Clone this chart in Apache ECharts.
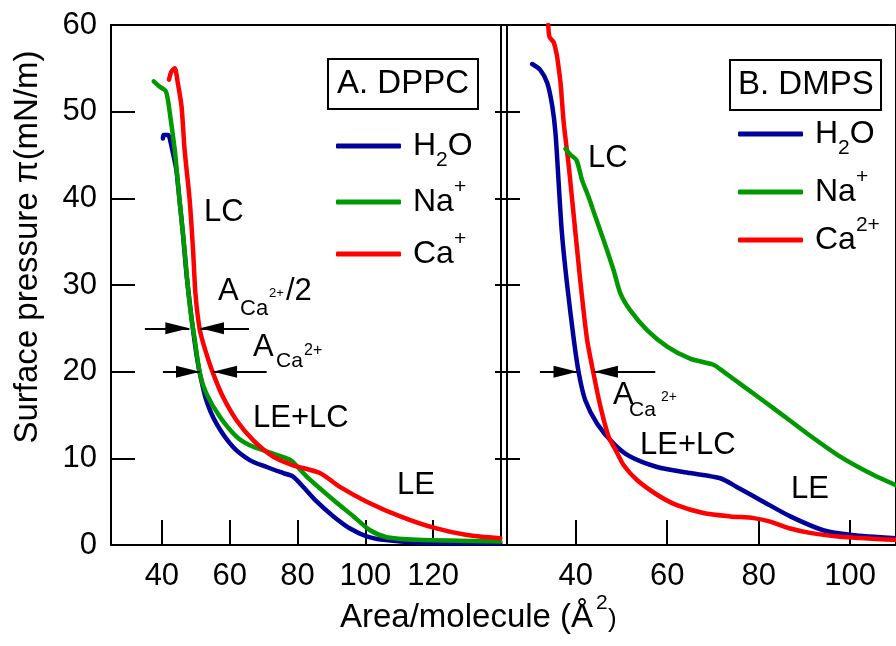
<!DOCTYPE html>
<html>
<head>
<meta charset="utf-8">
<script src="https://cdn.jsdelivr.net/npm/echarts@6/dist/echarts.min.js"></script>
<style>
  html, body { margin: 0; padding: 0; background: #fff; }
  #chart { width: 896px; height: 646px; }
</style>
</head>
<body>
<div id="chart"></div>
<script>
// Surface pressure isotherms: [area per molecule (Å²), pressure (mN/m)]

// Panel A: DPPC
const dppcWater = [[40.3,46.9],[40.5,47.3],[41.9,47.3],[42.5,46.6],[43.5,44.8],[44.3,43.2],[45.2,39.8],[46.2,36.0],[47.2,31.5],[48.2,28.0],[49.2,24.8],[50.2,22.0],[51.2,19.8],[53.1,16.7],[56.1,14.0],[61.0,11.3],[65.9,9.8],[70.9,9.0],[75.8,8.3],[78.7,7.9],[81.7,6.7],[85.7,5.0],[90.6,3.3],[95.5,1.9],[100.4,1.0],[105.3,0.6],[115.2,0.3],[139.8,0.2]];
const dppcNa = [[37.6,53.5],[39.3,52.9],[41.1,52.4],[41.8,51.3],[42.5,49.4],[43.8,45.6],[45.2,39.8],[46.7,34.0],[47.7,29.6],[48.6,26.5],[49.7,23.7],[51.2,19.8],[53.1,17.5],[57.1,14.8],[62.0,12.5],[65.9,11.5],[70.9,10.8],[76.8,10.0],[78.3,9.7],[82.7,7.9],[90.6,5.2],[96.5,3.3],[101.4,1.7],[106.3,0.9],[115.2,0.6],[139.8,0.4]];
const dppcCa = [[42.1,53.7],[42.8,54.6],[43.8,55.0],[44.7,53.3],[45.8,50.6],[46.7,45.6],[48.2,39.8],[49.2,34.0],[49.9,29.0],[51.2,24.8],[53.1,22.1],[55.1,19.8],[58.0,17.1],[62.0,14.4],[66.9,12.1],[72.8,10.2],[78.7,9.2],[86.6,8.3],[92.5,6.7],[100.4,5.0],[110.3,3.3],[120.1,2.0],[130.0,1.15],[139.8,0.77]];

// Panel B: DMPS
const dmpsWater = [[30.5,55.5],[32.3,54.8],[33.8,53.3],[34.9,50.6],[35.6,47.5],[36.3,41.7],[37.0,36.0],[38.1,30.2],[39.6,23.7],[40.7,19.8],[42.1,16.7],[44.7,14.0],[48.3,11.7],[51.9,10.2],[57.8,9.0],[65.0,8.3],[71.6,7.7],[75.2,6.7],[81.0,5.0],[86.9,3.3],[94.1,1.7],[100.3,1.15],[110.0,0.77]];
const dmpsNa = [[37.8,45.7],[38.9,45.0],[40.2,44.4],[41.4,42.1],[42.8,40.2],[44.3,37.9],[46.1,35.2],[48.3,31.7],[49.8,29.0],[51.9,27.1],[55.6,24.8],[60.0,22.9],[65.0,21.5],[70.1,20.8],[72.3,20.0],[76.7,18.3],[83.2,15.8],[90.5,12.9],[97.8,10.2],[105.0,8.1],[110.0,6.9]];
const dmpsCa = [[34.0,60.0],[34.3,58.6],[35.2,58.0],[35.9,56.5],[36.3,55.0],[36.7,53.3],[37.4,48.7],[38.5,43.7],[39.6,37.9],[40.7,32.1],[41.4,28.6],[42.5,23.7],[43.9,19.8],[45.4,16.0],[47.2,12.5],[48.7,11.0],[50.5,9.2],[53.4,7.5],[57.8,5.8],[62.1,4.6],[67.9,3.7],[73.8,3.3],[78.9,3.1],[82.5,2.7],[86.9,1.9],[91.2,1.4],[97.8,0.96],[110.0,0.6]];

// Axis ticks
const yTicks = [0, 10, 20, 30, 40, 50, 60];
const xTicksA = [40, 60, 80, 100, 120];
const xTicksB = [40, 60, 80, 100];

// Area-difference arrows: pressure level, tail end, head (area values)
const arrowsA = [
  { p: 25, from: 35.0, to: 48.1 },
  { p: 25, from: 65.7, to: 51.25 },
  { p: 20, from: 40.3, to: 51.25 },
  { p: 20, from: 70.9, to: 55.1 }
];
const arrowsB = [
  { p: 20, from: 32.2, to: 40.4 },
  { p: 20, from: 57.4, to: 44.0 }
];

const COLORS = { water: '#00009c', na: '#009a00', ca: '#ff0000' };
const FONT = '"Liberation Sans", Arial, Helvetica, sans-serif';

const legendText = {
  'H2O': '{a|H}{sub|2}{n|O}',
  'Na+': '{a|Na}{sup|+}',
  'Ca+': '{a|Ca}{sup|+}',
  'Ca2+': '{a|Ca}{sup|2+}'
};

function legendItem(name, left, top) {
  return {
    data: [name], left: left, top: top, padding: 0,
    selectedMode: false, icon: 'roundRect', itemWidth: 65, itemHeight: 5,
    formatter: n => legendText[n],
    textStyle: {
      color: '#000', fontFamily: FONT, fontSize: 32,
      rich: {
        a: { fontSize: 32, lineHeight: 50, padding: [0, 0, 0, 7], color: '#000', fontFamily: FONT },
        n: { fontSize: 32, lineHeight: 50, color: '#000', fontFamily: FONT },
        sub: { fontSize: 21, lineHeight: 21, verticalAlign: 'bottom', color: '#000', fontFamily: FONT },
        sup: { fontSize: 21, lineHeight: 21, verticalAlign: 'top', color: '#000', fontFamily: FONT }
      }
    }
  };
}

// Each arrow: plain tail, filled triangular head whose tip sits on the end value
function arrowLines(list) {
  return {
    silent: true, animation: false,
    symbol: ['none', 'triangle'],
    symbolSize: 24,
    lineStyle: { color: '#000', width: 2, type: 'solid' },
    itemStyle: { color: '#000' },
    label: { show: false },
    emphasis: { disabled: true },
    data: list.map(a => [
      { coord: [a.from, a.p], symbol: 'none' },
      { coord: [a.to, a.p], symbol: 'triangle', symbolSize: [12, 24], symbolOffset: [0, 12] }
    ])
  };
}

function curve(name, data, color, xi, extra) {
  return Object.assign({
    type: 'line', name: name, data: data, xAxisIndex: xi, yAxisIndex: xi === 0 ? 0 : 2,
    showSymbol: false, symbol: 'none', smooth: 0.25, clip: true,
    lineStyle: { color: color, width: 4.5, cap: 'round', join: 'round' },
    itemStyle: { color: color },
    animation: false, silent: true
  }, extra || {});
}

function txt(text, x, y, size) {
  return {
    type: 'text', x: x, y: y, silent: true,
    style: { text: text, fill: '#000', fontSize: size, fontFamily: FONT, align: 'left', verticalAlign: 'middle' }
  };
}

const tickStyle = { color: '#000', width: 2 };
function xAxis(grid, min, max, ticks) {
  return {
    type: 'value', gridIndex: grid, min: min, max: max,
    axisLine: { show: false },
    splitLine: { show: false },
    axisTick: { show: true, inside: true, length: 25, lineStyle: tickStyle, customValues: ticks },
    axisLabel: { show: true, customValues: ticks, color: '#000', fontSize: 31, fontFamily: FONT, margin: 16 }
  };
}
function yAxis(grid, pos, opts) {
  return Object.assign({
    type: 'value', gridIndex: grid, position: pos, min: 0, max: 60, interval: 10,
    axisLine: { show: false }, splitLine: { show: false },
    axisLabel: { show: false }
  }, opts);
}

const chart = echarts.init(document.getElementById('chart'), null, { renderer: 'canvas' });
chart.setOption({
  backgroundColor: '#fff',
  animation: false,
  textStyle: { fontFamily: FONT },
  grid: [
    { left: 111, top: 25, width: 390, height: 520, show: true, borderColor: '#000', borderWidth: 2, backgroundColor: 'transparent' },
    { left: 507, top: 25, width: 390, height: 520, show: true, borderColor: '#000', borderWidth: 2, backgroundColor: 'transparent' }
  ],
  xAxis: [
    xAxis(0, 25, 140, xTicksA),
    xAxis(1, 25, 110, xTicksB)
  ],
  yAxis: [
    yAxis(0, 'left', {
      axisTick: { show: true, inside: true, length: 24, lineStyle: tickStyle },
      axisLabel: { show: true, color: '#000', fontSize: 31, fontFamily: FONT, margin: 14 }
    }),
    yAxis(0, 'right', { axisTick: { show: true, inside: true, length: 6, lineStyle: tickStyle } }),
    yAxis(1, 'left', { axisTick: { show: true, inside: true, length: 13, lineStyle: tickStyle } }),
    yAxis(1, 'left', { axisTick: { show: true, inside: false, length: 11, lineStyle: tickStyle } })
  ],
  title: [
    { text: 'A. DPPC', left: 328, top: 59, padding: [7, 9, 7, 9], borderColor: '#000', borderWidth: 2,
      textStyle: { fontSize: 33, fontWeight: 'normal', color: '#000', fontFamily: FONT, lineHeight: 36 } },
    { text: 'B. DMPS', left: 730, top: 60, padding: [7, 8, 7, 8], borderColor: '#000', borderWidth: 2,
      textStyle: { fontSize: 33, fontWeight: 'normal', color: '#000', fontFamily: FONT, lineHeight: 36 } }
  ],
  legend: [
    legendItem('H2O', 336, 130),
    legendItem('Na+', 336, 177),
    legendItem('Ca+', 336, 229),
    legendItem('H2O', 738, 118),
    legendItem('Na+', 738, 167),
    legendItem('Ca2+', 738, 215)
  ],
  series: [
    curve('H2O', dppcWater, COLORS.water, 0, { markLine: arrowLines(arrowsA) }),
    curve('Na+', dppcNa, COLORS.na, 0),
    curve('Ca+', dppcCa, COLORS.ca, 0),
    curve('H2O', dmpsWater, COLORS.water, 1, { markLine: arrowLines(arrowsB) }),
    curve('Ca2+', dmpsCa, COLORS.ca, 1),
    curve('Na+', dmpsNa, COLORS.na, 1)
  ],
  graphic: [
    // axis titles
    { type: 'text', x: 28, y: 247, rotation: Math.PI / 2, silent: true,
      style: { text: 'Surface pressure \u03c0(mN/m)', fill: '#000', fontSize: 33, fontFamily: FONT, align: 'center', verticalAlign: 'middle' } },
    txt('Area/molecule (\u00c5', 340, 618, 33),
    txt('2', 596, 603, 21),
    txt(')', 608, 620, 26),
    // phase labels, panel A
    txt('LC', 204, 212, 31),
    txt('A', 218, 291, 31), txt('Ca', 240, 309, 22), txt('2+', 269, 293, 13), txt('/2', 286, 291, 31),
    txt('A', 253, 347, 31), txt('Ca', 276, 361, 21), txt('2+', 304, 351, 16),
    txt('LE+LC', 253, 418, 31),
    txt('LE', 397, 485, 31),
    // phase labels, panel B
    txt('LC', 588, 158, 31),
    txt('A', 613, 395, 31), txt('Ca', 629, 410, 21), txt('2+', 661, 397, 14),
    txt('LE+LC', 640, 445, 31),
    txt('LE', 791, 489, 31)
  ]
});
</script>
</body>
</html>
